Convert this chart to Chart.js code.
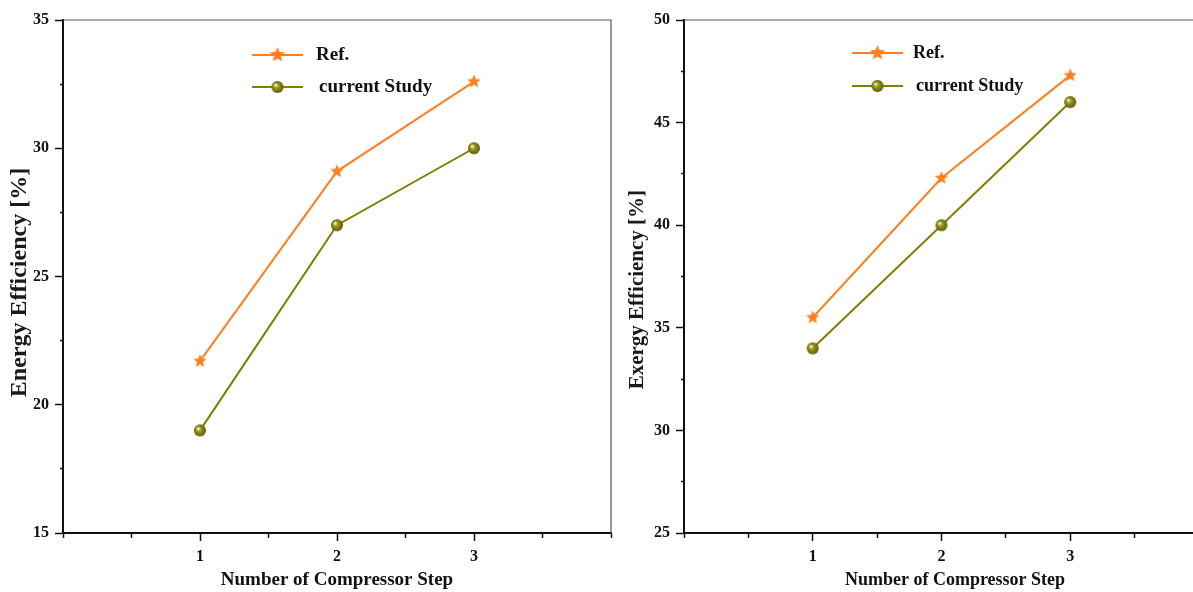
<!DOCTYPE html>
<html>
<head>
<meta charset="utf-8">
<script src="https://cdn.jsdelivr.net/npm/chart.js@4.4.1/dist/chart.umd.min.js"></script>
<style>
  body { margin: 0; background: #fff; }
  #wrap { position: relative; width: 1193px; height: 592px; overflow: hidden; background: #fff; }
  #leftBox { position: absolute; left: 0; top: 0; width: 620px; height: 592px; }
  #rightBox { position: absolute; left: 620px; top: 0; width: 573px; height: 592px; overflow: hidden; }
</style>
</head>
<body>
<div id="wrap">
  <div id="leftBox"><canvas id="energy-chart" width="620" height="592"></canvas></div>
  <div id="rightBox"><canvas id="exergy-chart" width="600" height="592"></canvas></div>
</div>
<script>
// data
const steps = [1, 2, 3];
const seriesNames = ['Ref.', 'current Study'];
const refEnergy = [21.7, 29.1, 32.6];
const studyEnergy = [19, 27, 30];
const refExergy = [35.5, 42.3, 47.3];
const studyExergy = [34, 40, 46];
const energyTicks = [15, 20, 25, 30, 35];
const exergyTicks = [25, 30, 35, 40, 45, 50];

const orange = '#ff7f1e';
const olive = '#7f7f00';
const serif = '"Liberation Serif", "Times New Roman", serif';

function starImage(r, color) {
    var s = Math.ceil(r * 2 + 2);
    var c = document.createElement('canvas');
    c.width = s; c.height = s;
    var g = c.getContext('2d');
    g.fillStyle = color;
    g.beginPath();
    for (var i = 0; i < 10; i++) {
        var rad = i % 2 === 0 ? r : r * 0.45;
        var a = -Math.PI / 2 + i * Math.PI / 5;
        g.lineTo(s / 2 + rad * Math.cos(a), s / 2 + rad * Math.sin(a));
    }
    g.closePath();
    g.fill();
    return c;
}

function ballImage(r) {
    var s = Math.ceil(r * 2 + 2);
    var c = document.createElement('canvas');
    c.width = s; c.height = s;
    var g = c.getContext('2d');
    var grad = g.createRadialGradient(s / 2 - r * 0.35, s / 2 - r * 0.35, 0.5, s / 2, s / 2, r);
    grad.addColorStop(0, '#f4f4d0');
    grad.addColorStop(0.35, '#9a9a20');
    grad.addColorStop(1, '#5c5c00');
    g.fillStyle = grad;
    g.beginPath();
    g.arc(s / 2, s / 2, r, 0, Math.PI * 2);
    g.fill();
    return c;
}

const starImg = starImage(7, orange);
const ballImg = ballImage(6);
const starLegend = starImage(8, orange);

function toPoints(vals) {
    return steps.map((s, i) => ({ x: s, y: vals[i] }));
}

// top + right frame lines
const framePlugin = {
    id: 'frame',
    beforeDatasetsDraw(chart) {
        var a = chart.chartArea, ctx = chart.ctx;
        ctx.save();
        ctx.strokeStyle = '#555';
        ctx.lineWidth = 1.2;
        ctx.beginPath();
        ctx.moveTo(a.left, a.top);
        ctx.lineTo(a.right, a.top);
        ctx.lineTo(a.right, a.bottom);
        ctx.stroke();
        ctx.restore();
    }
};

// legend drawn at fixed spot inside the plot
const legendPlugin = {
    id: 'boxLegend',
    afterDatasetsDraw(chart, args, opts) {
        var ctx = chart.ctx;
        var imgs = [starLegend, ballImg];
        var cols = [orange, olive];
        ctx.save();
        for (var i = 0; i < seriesNames.length; i++) {
            var y = opts.rows[i];
            ctx.strokeStyle = cols[i];
            ctx.lineWidth = 2;
            ctx.beginPath();
            ctx.moveTo(opts.x, y);
            ctx.lineTo(opts.x + opts.len, y);
            ctx.stroke();
            ctx.drawImage(imgs[i], opts.x + opts.len / 2 - imgs[i].width / 2, y - imgs[i].height / 2);
            ctx.fillStyle = '#111';
            ctx.font = 'bold ' + opts.size + 'px ' + serif;
            ctx.textBaseline = 'middle';
            ctx.fillText(seriesNames[i], opts.textX[i], y);
        }
        ctx.restore();
    }
};

function makeChart(id, refVals, studyVals, yMin, yMax, majors, c) {
    var ctx = document.getElementById(id).getContext('2d');
    return new Chart(ctx, {
        type: 'line',
        data: {
            datasets: [{
                label: seriesNames[0],
                data: toPoints(refVals),
                borderColor: orange,
                backgroundColor: orange,
                borderWidth: 2,
                pointStyle: starImg,
                tension: 0
            }, {
                label: seriesNames[1],
                data: toPoints(studyVals),
                borderColor: olive,
                backgroundColor: olive,
                borderWidth: 2,
                pointStyle: ballImg,
                tension: 0
            }]
        },
        options: {
            responsive: false,
            animation: false,
            layout: { padding: c.pad },
            plugins: {
                legend: { display: false },
                tooltip: { enabled: false },
                boxLegend: c.legend
            },
            scales: {
                x: {
                    type: 'linear',
                    min: 0,
                    max: 4,
                    afterFit: function (scale) { scale.height = 59; },
                    afterBuildTicks: function (scale) {
                        var t = [];
                        for (var v = 0; v <= 4; v += 0.5) t.push({ value: v });
                        scale.ticks = t;
                    },
                    border: { color: '#111', width: 2 },
                    grid: {
                        drawOnChartArea: false,
                        tickLength: 8,
                        tickWidth: 1.5,
                        tickColor: '#111',
                        tickBorderDash: function (ctx2) {
                            return steps.indexOf(ctx2.tick.value) >= 0 ? [] : [4, 30];
                        }
                    },
                    ticks: {
                        autoSkip: false,
                        maxRotation: 0,
                        padding: 6,
                        color: '#111',
                        font: { family: serif, size: 16, weight: 'bold' },
                        callback: function (v) { return steps.indexOf(v) >= 0 ? String(v) : ''; }
                    },
                    title: {
                        display: true,
                        text: c.xTitle,
                        color: '#111',
                        padding: { top: 0, bottom: 1 },
                        font: { family: serif, size: c.xSize, weight: 'bold' }
                    }
                },
                y: {
                    min: yMin,
                    max: yMax,
                    afterFit: function (scale) { scale.width = c.yWidth; },
                    afterBuildTicks: function (scale) {
                        var t = [];
                        for (var v = yMin; v <= yMax; v += 2.5) t.push({ value: v });
                        scale.ticks = t;
                    },
                    border: { color: '#111', width: 2 },
                    grid: {
                        drawOnChartArea: false,
                        tickLength: 8,
                        tickWidth: 1.5,
                        tickColor: '#111',
                        tickBorderDash: function (ctx2) {
                            return majors.indexOf(ctx2.tick.value) >= 0 ? [] : [0, 5, 3, 30];
                        }
                    },
                    ticks: {
                        autoSkip: false,
                        padding: 6,
                        color: '#111',
                        font: { family: serif, size: 16, weight: 'bold' },
                        callback: function (v) { return majors.indexOf(v) >= 0 ? String(v) : ''; }
                    },
                    title: {
                        display: true,
                        text: c.yTitle,
                        color: '#1a1a1a',
                        padding: { top: c.titlePad, bottom: 0 },
                        font: { family: serif, size: c.ySize, weight: 'bold' }
                    }
                }
            }
        },
        plugins: [framePlugin, legendPlugin]
    });
}

var energyChart = makeChart('energy-chart', refEnergy, studyEnergy, 15, 35, energyTicks, {
    yTitle: 'Energy Efficiency [%]  ', ySize: 24, titlePad: 5,
    xTitle: 'Number of Compressor Step', xSize: 19, yWidth: 63,
    pad: { top: 20, right: 9, left: 0, bottom: 0 },
    legend: { x: 252, len: 51, rows: [55, 87], textX: [316, 319], size: 19 }
});

var exergyChart = makeChart('exergy-chart', refExergy, studyExergy, 25, 50, exergyTicks, {
    yTitle: 'Exergy Efficiency [%]     ', ySize: 21, titlePad: 5,
    xTitle: '      Number of Compressor Step', xSize: 18, yWidth: 64,
    pad: { top: 20, right: 21, left: 0, bottom: 0 },
    legend: { x: 232, len: 51, rows: [53, 86], textX: [293, 296], size: 18 }
});
</script>
</body>
</html>
